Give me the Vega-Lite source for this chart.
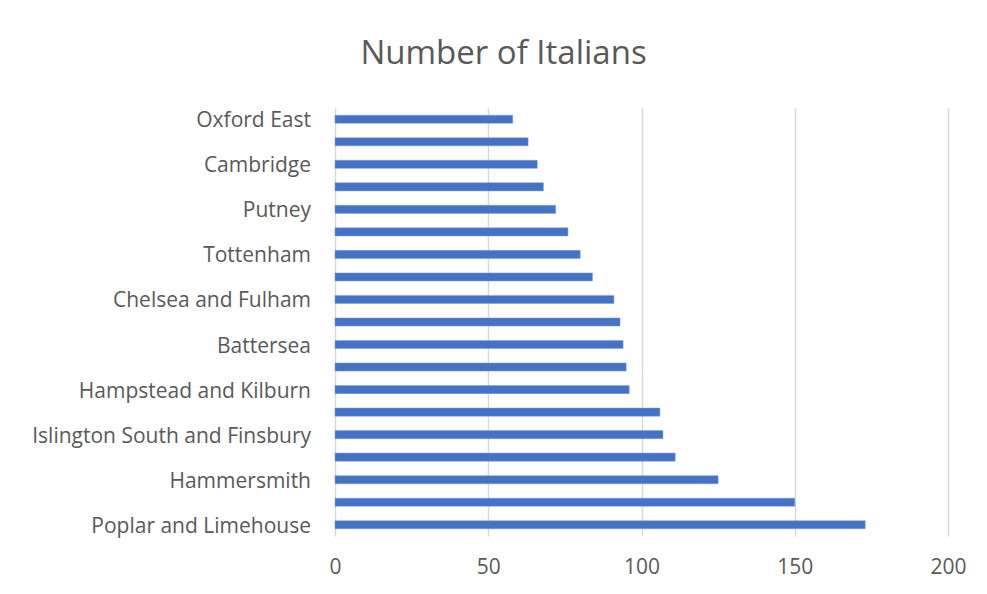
{
  "$schema": "https://vega.github.io/schema/vega-lite/v6.json",
  "width": 613,
  "height": 428,
  "autosize": {"type": "none"},
  "padding": {"left": 335, "top": 108, "right": 39, "bottom": 58},
  "background": "white",
  "title": {
    "text": "Number of Italians",
    "font": "Open Sans",
    "fontSize": 33,
    "fontWeight": "normal",
    "color": "#595959",
    "anchor": "middle",
    "dx": -138,
    "offset": 37
  },
  "data": {
    "values": [
      {"rank": 19, "label": "Oxford East", "italians": 58},
      {"rank": 18, "label": "", "italians": 63},
      {"rank": 17, "label": "Cambridge", "italians": 66},
      {"rank": 16, "label": "", "italians": 68},
      {"rank": 15, "label": "Putney", "italians": 72},
      {"rank": 14, "label": "", "italians": 76},
      {"rank": 13, "label": "Tottenham", "italians": 80},
      {"rank": 12, "label": "", "italians": 84},
      {"rank": 11, "label": "Chelsea and Fulham", "italians": 91},
      {"rank": 10, "label": "", "italians": 93},
      {"rank": 9, "label": "Battersea", "italians": 94},
      {"rank": 8, "label": "", "italians": 95},
      {"rank": 7, "label": "Hampstead and Kilburn", "italians": 96},
      {"rank": 6, "label": "", "italians": 106},
      {"rank": 5, "label": "Islington South and Finsbury", "italians": 107},
      {"rank": 4, "label": "", "italians": 111},
      {"rank": 3, "label": "Hammersmith", "italians": 125},
      {"rank": 2, "label": "", "italians": 150},
      {"rank": 1, "label": "Poplar and Limehouse", "italians": 173}
    ]
  },
  "encoding": {
    "y": {
      "field": "rank",
      "type": "ordinal",
      "sort": "descending",
      "scale": {"paddingInner": 0.64, "paddingOuter": 0.32},
      "axis": null
    },
    "x": {
      "field": "italians",
      "type": "quantitative",
      "scale": {"domain": [0, 200], "nice": false},
      "axis": {
        "title": null,
        "values": [0, 50, 100, 150, 200],
        "grid": true,
        "gridColor": "#d9d9d9",
        "gridWidth": 1.5,
        "domain": false,
        "ticks": false,
        "labelFlush": false,
        "labelFont": "Open Sans",
        "labelFontSize": 21,
        "labelColor": "#595959",
        "labelPadding": 20
      }
    }
  },
  "layer": [
    {
      "mark": {"type": "bar", "color": "#4472C4", "stroke": "#7f9fd8", "strokeWidth": 0.5}
    },
    {
      "mark": {
        "type": "text",
        "align": "right",
        "baseline": "middle",
        "dx": -24,
        "dy": 2,
        "font": "Open Sans",
        "fontSize": 21,
        "color": "#595959"
      },
      "encoding": {
        "x": {"datum": 0},
        "text": {"field": "label"}
      }
    }
  ],
  "config": {"view": {"stroke": null}}
}
